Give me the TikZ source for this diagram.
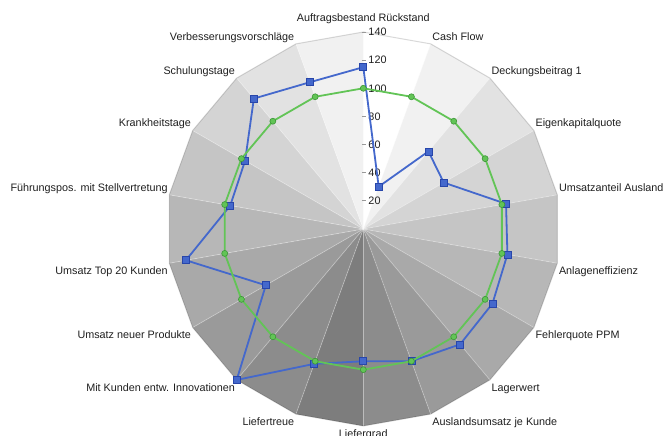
\documentclass[tikz,border=0pt]{standalone}
\usepackage{fontspec}
\setmainfont{Liberation Sans}

\definecolor{serieblue}{RGB}{68,104,204}
\definecolor{seriebluedark}{RGB}{40,70,170}
\definecolor{seriegreen}{RGB}{98,196,86}
\definecolor{seriegreendark}{RGB}{60,150,55}

\tikzset{
    lbl/.style={font=\fontsize{10.8}{13}\selectfont, text=black!88, inner xsep=1.5pt, inner ysep=2pt, text height=9pt, text depth=1.5pt},
    ticklbl/.style={lbl, anchor=west},
    tickmark/.style={draw=black!40, line width=0.8pt},
    spoke/.style={draw=white, draw opacity=0.3, line width=0.8pt},
    rim/.style={draw=black, draw opacity=0.15, line width=1pt},
    bluemark/.style={rectangle, draw=seriebluedark, fill=serieblue, minimum size=7pt, inner sep=0pt, line width=0.6pt},
    greenmark/.style={circle, draw=seriegreendark, fill=seriegreen, minimum size=6pt, inner sep=0pt, line width=0.6pt},
    blueline/.style={draw=serieblue, line width=1.8pt, line join=round},
    greenline/.style={draw=seriegreen, line width=1.8pt, line join=round}
}

\begin{document}
\begin{tikzpicture}[x=1pt, y=1pt]
    \useasboundingbox (-363.3,-207) rectangle (303.7,229);

    % axes and sectors
    \coordinate (c) at (0,0);
    \foreach \k in {0,...,17} \coordinate (v\k) at ({90-20*\k}:197);
    \foreach \k in {0,...,17} {
        \pgfmathsetmacro\dist{min(20*\k,360-20*\k)}
        \pgfmathsetmacro\shade{0.2824*\dist}
        \fill[black!\shade] (c) -- ({90-20*\k}:197) -- ({70-20*\k}:197) -- cycle;
    }
    \foreach \k in {0,...,17} \draw[spoke] (c) -- (v\k);
    \draw[rim] (v0) \foreach \k in {1,...,17} {-- (v\k)} -- cycle;

    % scale on the first axis
    \foreach \t in {20,40,...,140} {
        \draw[tickmark] (-1.5,{\t*1.40714}) -- (3,{\t*1.40714});
        \node[ticklbl] (t\t) at (3.5,{\t*1.40714}) {\t};
    }

    % labels
    \node[lbl, anchor=south, yshift=6.5pt] (l0) at (v0) {Auftragsbestand Rückstand};
    \node[lbl, anchor=south west] (l1) at (v1) {Cash Flow};
    \node[lbl, anchor=south west] (l2) at (v2) {Deckungsbeitrag 1};
    \node[lbl, anchor=south west] (l3) at (v3) {Eigenkapitalquote};
    \node[lbl, anchor=south west] (l4) at (v4) {Umsatzanteil Ausland};
    \node[lbl, anchor=north west] (l5) at (v5) {Anlageneffizienz};
    \node[lbl, anchor=north west] (l6) at (v6) {Fehlerquote PPM};
    \node[lbl, anchor=north west] (l7) at (v7) {Lagerwert};
    \node[lbl, anchor=north west] (l8) at (v8) {Auslandsumsatz je Kunde};
    \node[lbl, anchor=north] (l9) at (v9) {Liefergrad};
    \node[lbl, anchor=north east] (l10) at (v10) {Liefertreue};
    \node[lbl, anchor=north east] (l11) at (v11) {Mit Kunden entw. Innovationen};
    \node[lbl, anchor=north east] (l12) at (v12) {Umsatz neuer Produkte};
    \node[lbl, anchor=north east] (l13) at (v13) {Umsatz Top 20 Kunden};
    \node[lbl, anchor=south east] (l14) at (v14) {Führungspos. mit Stellvertretung};
    \node[lbl, anchor=south east] (l15) at (v15) {Krankheitstage};
    \node[lbl, anchor=south east] (l16) at (v16) {Schulungstage};
    \node[lbl, anchor=south east] (l17) at (v17) {Verbesserungsvorschläge};

    % blue series
    \foreach \v [count=\k from 0] in {115,32,72,66,103,104,106,107,100,94,102,140,80,128,96,97,121,111}
        \coordinate (b\k) at ({90-20*\k}:{\v*1.40714});
    \draw[blueline] (b0) \foreach \k in {1,...,17} {-- (b\k)} -- cycle;
    \foreach \k in {0,...,17} \node[bluemark] (bm\k) at (b\k) {};

    % green series
    \foreach \k in {0,...,17} \coordinate (g\k) at ({90-20*\k}:140.714);
    \draw[greenline] (g0) \foreach \k in {1,...,17} {-- (g\k)} -- cycle;
    \foreach \k in {0,...,17} \node[greenmark] (gm\k) at (g\k) {};
\end{tikzpicture}
\end{document}
